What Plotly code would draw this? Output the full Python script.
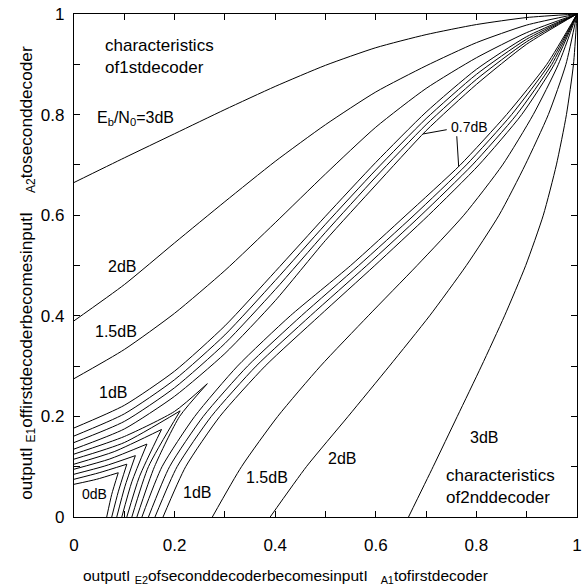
import numpy as np
import plotly.graph_objects as go

# EXIT transfer characteristics: output I_E versus a-priori input I_A
IA_GRID = [0.0, 0.1, 0.2, 0.3, 0.4, 0.5, 0.6, 0.7, 0.8, 0.9, 1.0]
IE_3_0DB = [0.665, 0.714, 0.762, 0.810, 0.856, 0.898, 0.933, 0.959, 0.979, 0.993, 1.0]
IE_2_0DB = [0.390, 0.462, 0.545, 0.627, 0.707, 0.780, 0.845, 0.897, 0.943, 0.978, 1.0]
IE_1_5DB = [0.275, 0.333, 0.405, 0.490, 0.585, 0.682, 0.775, 0.852, 0.913, 0.963, 1.0]
IE_1_0DB = [0.177, 0.222, 0.290, 0.380, 0.488, 0.598, 0.705, 0.805, 0.890, 0.955, 1.0]
IE_0_9DB = [0.161, 0.205, 0.273, 0.362, 0.470, 0.582, 0.690, 0.792, 0.880, 0.950, 1.0]
IE_0_8DB = [0.148, 0.190, 0.257, 0.345, 0.452, 0.566, 0.676, 0.780, 0.870, 0.945, 1.0]
IE_0_7DB = [0.135, 0.175, 0.240, 0.325, 0.430, 0.550, 0.660, 0.768, 0.860, 0.940, 1.0]

# Closed tunnels: characteristics only up to where both decoders meet
IA_0_6DB = [0.0, 0.1, 0.2, 0.265]
IE_0_6DB = [0.125, 0.160, 0.210, 0.265]
IA_0_5DB = [0.0, 0.1, 0.211]
IE_0_5DB = [0.115, 0.148, 0.211]
IA_0_4DB = [0.0, 0.08, 0.174]
IE_0_4DB = [0.105, 0.130, 0.174]
IA_0_3DB = [0.0, 0.07, 0.145]
IE_0_3DB = [0.095, 0.115, 0.145]
IA_0_2DB = [0.0, 0.06, 0.122]
IE_0_2DB = [0.085, 0.101, 0.122]
IA_0_1DB = [0.0, 0.05, 0.105]
IE_0_1DB = [0.075, 0.088, 0.105]
IA_0_0DB = [0.0, 0.045, 0.088]
IE_0_0DB = [0.065, 0.075, 0.088]

TICK_VALUES = [0.0, 0.2, 0.4, 0.6, 0.8, 1.0]
TICK_LABELS = ["0", "0.2", "0.4", "0.6", "0.8", "1"]

curves = [
    (IA_GRID, IE_3_0DB), (IA_GRID, IE_2_0DB), (IA_GRID, IE_1_5DB),
    (IA_GRID, IE_1_0DB), (IA_GRID, IE_0_9DB), (IA_GRID, IE_0_8DB),
    (IA_GRID, IE_0_7DB),
    (IA_0_6DB, IE_0_6DB), (IA_0_5DB, IE_0_5DB), (IA_0_4DB, IE_0_4DB),
    (IA_0_3DB, IE_0_3DB), (IA_0_2DB, IE_0_2DB), (IA_0_1DB, IE_0_1DB),
    (IA_0_0DB, IE_0_0DB),
]

FONT = "Liberation Sans, Arial, Helvetica, sans-serif"
line_style = dict(color="black", width=1, shape="spline", smoothing=0.6)

fig = go.Figure()
for ia, ie in curves:
    # first decoder: I_E1 over I_A1
    fig.add_trace(go.Scatter(x=ia, y=ie, mode="lines", line=line_style,
                             hoverinfo="skip", showlegend=False))
    # second decoder, axes swapped: I_A2 over I_E2
    fig.add_trace(go.Scatter(x=ie, y=ia, mode="lines", line=line_style,
                             hoverinfo="skip", showlegend=False))


def label(text, x, y, size=16, xanchor="center", align="center"):
    fig.add_annotation(text=text, x=x, y=y, xref="x", yref="y",
                       showarrow=False, xanchor=xanchor, yanchor="middle",
                       align=align, font=dict(family=FONT, size=size, color="black"))


label("characteristics<br>of1stdecoder", 0.058, 0.915, size=17, xanchor="left", align="left")
label("E<sub>b</sub>/N<sub>0</sub>=3dB", 0.042, 0.792, xanchor="left")
label("2dB", 0.096, 0.498)
label("1.5dB", 0.084, 0.369)
label("1dB", 0.078, 0.247)
label("0dB", 0.041, 0.046, size=14)
label("1dB", 0.245, 0.048)
label("1.5dB", 0.383, 0.078)
label("2dB", 0.532, 0.117)
label("3dB", 0.815, 0.158)
label("characteristics<br>of2nddecoder", 0.736, 0.061, size=17, xanchor="left", align="left")
label("0.7dB", 0.787, 0.775, size=14)

# leader lines from the 0.7 dB label to its two curves
ia_a = 0.694
pa = (ia_a, float(np.interp(ia_a, IA_GRID, IE_0_7DB)))
ia_b = 0.697
pb = (float(np.interp(ia_b, IA_GRID, IE_0_7DB)), ia_b)
fig.add_shape(type="line", xref="x", yref="y", x0=0.741, y0=0.770, x1=pa[0], y1=pa[1],
              line=dict(color="black", width=1))
fig.add_shape(type="line", xref="x", yref="y", x0=0.761, y0=0.757, x1=pb[0], y1=pb[1],
              line=dict(color="black", width=1))

# axis titles
gap_x = "\u00a0" * 3
gap_y = "\u00a0" * 4
fig.add_annotation(
    text="outputI <sub>E2</sub>ofseconddecoderbecomesinputI" + gap_x + "<sub>A1</sub>tofirstdecoder",
    x=0.42, y=-0.119, xref="paper", yref="paper", showarrow=False,
    xanchor="center", yanchor="middle", font=dict(family=FONT, size=15.5, color="black"))
fig.add_annotation(
    text="outputI <sub>E1</sub>offirstdecoderbecomesinputI" + gap_y + "<sub>A2</sub>toseconddecoder",
    x=-0.094, y=0.485, xref="paper", yref="paper", showarrow=False, textangle=-90,
    xanchor="center", yanchor="middle", font=dict(family=FONT, size=17.2, color="black"))

axis_common = dict(
    range=[0, 1], tickvals=TICK_VALUES, ticktext=TICK_LABELS,
    ticks="inside", ticklen=6, tickwidth=1, tickcolor="black",
    minor=dict(dtick=0.1, ticks="inside", ticklen=6, tickwidth=1, tickcolor="black",
               showgrid=False),
    showline=True, linecolor="black", linewidth=1.2, mirror="ticks",
    showgrid=False, zeroline=False, automargin=False,
    tickfont=dict(family=FONT, size=17, color="black"),
)
fig.update_xaxes(**axis_common, ticklabelstandoff=12)
fig.update_yaxes(**axis_common, ticklabelstandoff=5)

fig.update_layout(
    width=584, height=586,
    margin=dict(l=74, r=7, t=14, b=69),
    plot_bgcolor="white", paper_bgcolor="white",
)

fig.write_html("out.html")
